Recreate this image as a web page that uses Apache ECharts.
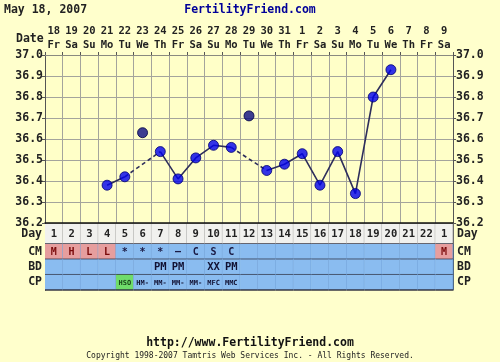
<!DOCTYPE html>
<html><head><meta charset="utf-8">
<script src="https://cdn.jsdelivr.net/npm/echarts@6/dist/echarts.min.js"></script>
<style>html,body{margin:0;padding:0;background:#ffffcc;}#c{width:500px;height:362px;}</style>
</head><body><div id="c"></div>
<script>
const dates = ['18','19','20','21','22','23','24','25','26','27','28','29','30','31','1','2','3','4','5','6','7','8','9'];
const weekdays = ['Fr','Sa','Su','Mo','Tu','We','Th','Fr','Sa','Su','Mo','Tu','We','Th','Fr','Sa','Su','Mo','Tu','We','Th','Fr','Sa'];
const cycleDays = ['1','2','3','4','5','6','7','8','9','10','11','12','13','14','15','16','17','18','19','20','21','22','1'];
const temps = [null,null,null,36.38,36.42,36.63,36.54,36.41,36.51,36.57,36.56,36.71,36.45,36.48,36.53,36.38,36.54,36.34,36.80,36.93,null,null,null];
const excluded = [false,false,false,false,false,true,false,false,false,false,false,true,false,false,false,false,false,false,false,false,false,false,false];
const yTicks = [36.2,36.3,36.4,36.5,36.6,36.7,36.8,36.9,37.0];
const rowNames = ['CM','BD','CP'];
const cm = ['M','H','L','L','*','*','*','\u2013','C','S','C','','','','','','','','','','','','M'];
const bd = ['','','','','','','PM','PM','','XX','PM','','','','','','','','','','','',''];
const cp = ['','','','','HSO','HM-','MM-','MM-','MM-','MFC','MMC','','','','','','','','','','','',''];
const period = [true,true,true,true,false,false,false,false,false,false,false,false,false,false,false,false,false,false,false,false,false,false,true];

const FONT = '"DejaVu Sans Mono", monospace';
const chart = echarts.init(document.getElementById('c'), null, {renderer:'canvas'});

const cats = dates.map((d,i)=>i);
const L = 45, R = 47;

const solid = temps.map((v,i)=> (v==null||excluded[i]) ? null : v);
const dashedSeries = [];
excluded.forEach((ex,i)=>{
  if(!ex) return;
  const d = temps.map(()=>null);
  d[i-1] = temps[i-1]; d[i+1] = temps[i+1];
  dashedSeries.push({type:'line', xAxisIndex:0, yAxisIndex:0, data:d, connectNulls:true, showSymbol:false, symbol:'none',
    lineStyle:{color:'#2e2e5c', width:1.6, type:[4,3]}, z:3, silent:true});
});

function cellRender(values, opts){
  return function(params, api){
    const i = api.value(0);
    const c = api.coord([api.value(0), api.value(1)]);
    const s = api.size([1,1]);
    const x0 = c[0]-s[0]/2, y0 = c[1]-s[1]/2;
    return {type:'group', children:[
      {type:'rect', shape:{x:x0,y:y0,width:s[0],height:s[1]}, style:{fill:opts.fill(i, values[i])}},
      {type:'line', shape:{x1:x0+s[0],y1:y0,x2:x0+s[0],y2:y0+s[1]}, style:{stroke:opts.vline, lineWidth:1}},
      {type:'line', shape:{x1:x0,y1:y0+s[1],x2:x0+s[0],y2:y0+s[1]}, style:{stroke:'#2a2a3a', lineWidth:1.4}},
      {type:'text', x:c[0], y:c[1]+0.5, style:{text:values[i], fill:opts.color(i, values[i]), font:opts.font, align:'center', verticalAlign:'middle'}}
    ]};
  };
}

const rowLabel = {interval:0, fontFamily:FONT, fontWeight:'bold', fontSize:11.5, color:'#222'};

const option = {
  backgroundColor:'#ffffcc',
  animation:false,
  grid:[
    {left:L, right:R, top:55, height:168, show:true, backgroundColor:'#ffffc8', borderWidth:0},
    {left:L, right:R, top:224, height:20, show:false},
    {left:L, right:R, top:244, height:46, show:false}
  ],
  xAxis:[
    {type:'category', gridIndex:0, position:'top', data:cats, boundaryGap:true,
     axisLine:{lineStyle:{color:'#8a8a80'}}, axisTick:{show:true, length:3, lineStyle:{color:'#555'}},
     splitLine:{show:true, lineStyle:{color:'#a4a49c'}},
     axisLabel:{interval:0, margin:3, formatter:(v)=>dates[v]+'\n'+weekdays[v], fontFamily:FONT, fontWeight:'bold', fontSize:10.5, lineHeight:14, color:'#222'}},
    {type:'category', gridIndex:0, position:'bottom', data:cats, axisLine:{lineStyle:{color:'#111', width:1.5}}, axisTick:{show:false}, axisLabel:{show:false}},
    {type:'category', gridIndex:1, data:cats, show:false},
    {type:'category', gridIndex:2, data:cats, show:false}
  ],
  yAxis:[
    {type:'value', gridIndex:0, min:yTicks[0], max:yTicks[yTicks.length-1], interval:0.1, position:'left',
     axisLine:{show:true, lineStyle:{color:'#555'}}, axisTick:{show:true, length:3, lineStyle:{color:'#555'}},
     splitLine:{show:true, lineStyle:{color:'#a4a49c'}},
     axisLabel:{margin:2, formatter:(v)=>v.toFixed(1), fontFamily:FONT, fontWeight:'bold', fontSize:11.5, color:'#222'}},
    {type:'value', gridIndex:0, min:yTicks[0], max:yTicks[yTicks.length-1], interval:0.1, position:'right',
     axisLine:{show:true, lineStyle:{color:'#555'}}, axisTick:{show:true, length:3, lineStyle:{color:'#555'}},
     splitLine:{show:false},
     axisLabel:{margin:3, formatter:(v)=>v.toFixed(1), fontFamily:FONT, fontWeight:'bold', fontSize:11.5, color:'#222'}},
    {type:'category', gridIndex:1, data:['Day'], position:'left', axisLine:{show:true, lineStyle:{color:'#333'}}, axisTick:{show:false},
     axisLabel:Object.assign({margin:3}, rowLabel)},
    {type:'category', gridIndex:1, data:['Day'], position:'right', axisLine:{show:true, lineStyle:{color:'#333'}}, axisTick:{show:false},
     axisLabel:Object.assign({margin:4}, rowLabel)},
    {type:'category', gridIndex:2, data:rowNames, inverse:true, position:'left', axisLine:{show:true, lineStyle:{color:'#333'}}, axisTick:{show:false},
     axisLabel:Object.assign({margin:3}, rowLabel)},
    {type:'category', gridIndex:2, data:rowNames, inverse:true, position:'right', axisLine:{show:true, lineStyle:{color:'#333'}}, axisTick:{show:false},
     axisLabel:Object.assign({margin:4}, rowLabel)}
  ],
  series:[
    {type:'line', xAxisIndex:0, yAxisIndex:0, data:solid, connectNulls:false, showSymbol:false, symbol:'none',
     lineStyle:{color:'#2e2e5c', width:1.6}, z:3},
    ...dashedSeries,
    {type:'scatter', xAxisIndex:0, yAxisIndex:0, z:5, symbolSize:10,
     data: temps.map((v,i)=> (v==null) ? null : {value:[i, v],
       itemStyle: excluded[i] ? {color:'#0c0c82', borderColor:'#000044', borderWidth:1} : {color:'#0000ee', borderColor:'#000070', borderWidth:1}}).filter(d=>d)},
    {type:'custom', xAxisIndex:2, yAxisIndex:2, data:cycleDays.map((d,i)=>[i,'Day']),
     renderItem: cellRender(cycleDays, {fill:()=>'#f1f1ee', vline:'#a8a8a8', color:()=>'#222', font:'bold 10.5px '+FONT})},
    {type:'custom', xAxisIndex:3, yAxisIndex:4, data:cm.map((d,i)=>[i,'CM']),
     renderItem: cellRender(cm, {fill:(i)=> period[i] ? '#e69e9e' : '#8abcf0', vline:'#6f9fd8', color:(i)=> period[i] ? '#7a0a0a' : '#1a1a44', font:'bold 10px '+FONT})},
    {type:'custom', xAxisIndex:3, yAxisIndex:4, data:bd.map((d,i)=>[i,'BD']),
     renderItem: cellRender(bd, {fill:()=>'#8abcf0', vline:'#6f9fd8', color:()=>'#111133', font:'bold 10.5px '+FONT})},
    {type:'custom', xAxisIndex:3, yAxisIndex:4, data:cp.map((d,i)=>[i,'CP']),
     renderItem: cellRender(cp, {fill:(i,v)=> v==='HSO' ? '#6fdc6a' : '#8abcf0', vline:'#6f9fd8', color:(i,v)=> v==='HSO' ? '#1a4a1a' : '#111133', font:'bold 7px '+FONT})}
  ],
  graphic:[
    {type:'text', left:4, top:4, style:{text:'May 18, 2007', font:'bold 11.5px '+FONT, fill:'#222'}},
    {type:'text', left:'center', top:4, style:{text:'FertilityFriend.com', font:'bold 11.5px '+FONT, fill:'#000099'}},
    {type:'text', left:16, top:33, style:{text:'Date', font:'bold 11.5px '+FONT, fill:'#222'}},
    {type:'text', left:'center', top:337, style:{text:'http://www.FertilityFriend.com', font:'bold 11.5px '+FONT, fill:'#111'}},
    {type:'text', left:'center', top:352, style:{text:'Copyright 1998-2007 Tamtris Web Services Inc. - All Rights Reserved.', font:'8px '+FONT, fill:'#222'}}
  ]
};
chart.setOption(option);
</script></body></html>
